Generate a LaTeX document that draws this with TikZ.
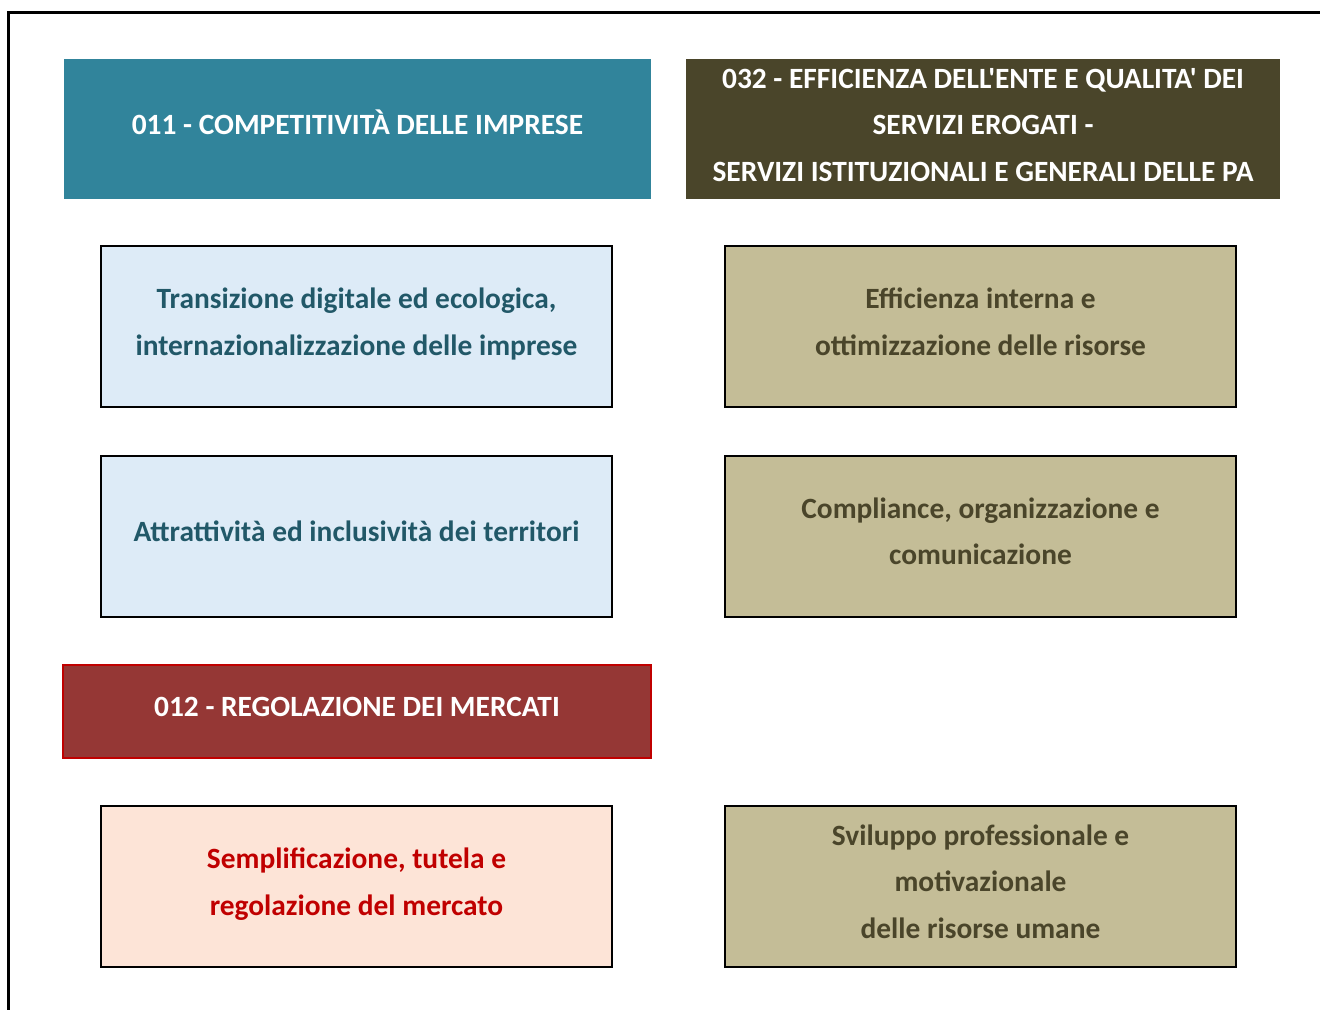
\documentclass[tikz,border=0pt]{standalone}
\usepackage{fontspec}
\newfontfamily\boxfont{Carlito}
\usepackage{xcolor}
\definecolor{compteal}{HTML}{31849B}
\definecolor{effbrown}{HTML}{4A452A}
\definecolor{regred}{HTML}{953735}
\definecolor{lightblue}{HTML}{DDEBF7}
\definecolor{darkteal}{HTML}{215868}
\definecolor{khaki}{HTML}{C4BD97}
\definecolor{lightpeach}{HTML}{FDE4D7}
\definecolor{textred}{HTML}{C00000}
\usetikzlibrary{positioning}

\begin{document}
\begin{tikzpicture}[x=1pt,y=-1pt,
  header/.style={rectangle,inner sep=0pt,align=center,text=white,text depth=9pt,
    font=\boxfont\bfseries\fontsize{29.4}{46.5}\selectfont},
  goalbox/.style={rectangle,draw=black,line width=2pt,inner sep=0pt,text depth=10pt,
    minimum width=511pt,minimum height=161pt,align=center,
    font=\boxfont\bfseries\fontsize{29.4}{46.5}\selectfont}]
  \useasboundingbox (0,0) rectangle (1320,1010);
  % Frame
  \coordinate (framecorner) at (8,12);
  \coordinate (frameright) at (1320,12);
  \coordinate (framebottom) at (8,1010);
  \draw[line width=3pt] (frameright) -- (framecorner) -- (framebottom);
  % Headers
  \node[header,fill=compteal,minimum width=587pt,minimum height=140pt,text depth=14pt] (hdrcomp) at (357.5,129) {011 - COMPETITIVITÀ DELLE IMPRESE};
  \node[header,fill=effbrown,minimum width=594pt,minimum height=140pt] (hdreff) at (983,129) {032 - EFFICIENZA DELL'ENTE E QUALITA' DEI\\SERVIZI EROGATI -\\SERVIZI ISTITUZIONALI E GENERALI DELLE PA};
  \node[header,fill=regred,draw=textred,line width=2pt,minimum width=588pt,minimum height=93pt] (hdrreg) at (357,711.5) {012 - REGOLAZIONE DEI MERCATI};
  % Goals
  \node[goalbox,fill=lightblue,text=darkteal] (digitale) at (356.5,326.5) {Transizione digitale ed ecologica,\\internazionalizzazione delle imprese};
  \node[goalbox,fill=lightblue,text=darkteal] (attratt) at (356.5,536) {Attrattività ed inclusività dei territori};
  \node[goalbox,fill=lightpeach,text=textred] (sempl) at (356.5,886.5) {Semplificazione, tutela e\\regolazione del mercato};
  \node[goalbox,fill=khaki,text=effbrown] (effint) at (980.5,326.5) {Efficienza interna e\\ottimizzazione delle risorse};
  \node[goalbox,fill=khaki,text=effbrown] (compl) at (980.5,536) {Compliance, organizzazione e\\comunicazione};
  \node[goalbox,fill=khaki,text=effbrown] (svil) at (980.5,886.5) {Sviluppo professionale e\\motivazionale\\delle risorse umane};
\end{tikzpicture}
\end{document}
